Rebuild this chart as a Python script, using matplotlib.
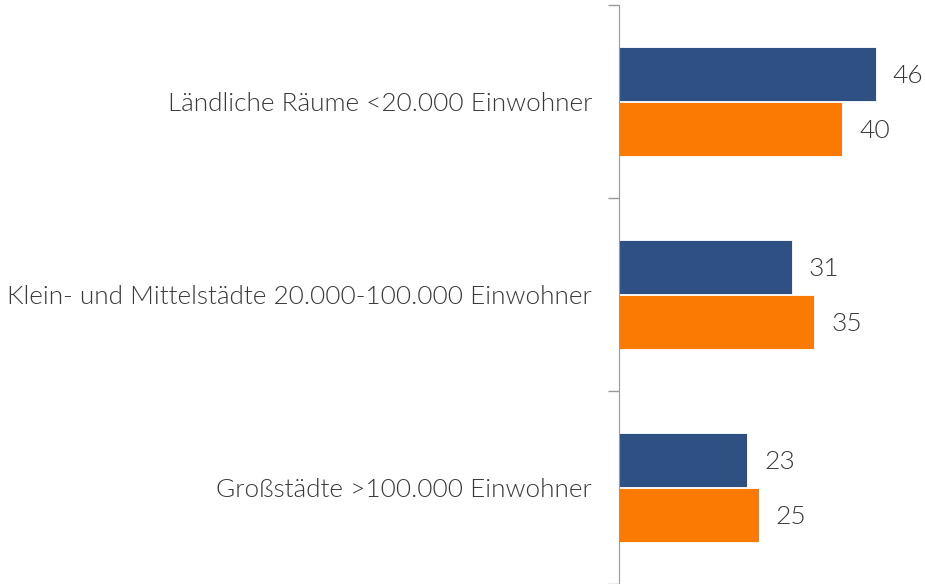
import numpy as np
import matplotlib
matplotlib.use("Agg")
import matplotlib.pyplot as plt

categories = ["Ländliche Räume <20.000 Einwohner",
              "Klein- und Mittelstädte 20.000-100.000 Einwohner",
              "Großstädte >100.000 Einwohner"]
series_blue = [46, 31, 23]
series_orange = [40, 35, 25]

blue = "#2F5082"
orange = "#FA7A04"
text_col = "#383838"

plt.rcParams['font.family'] = ['Lato', 'DejaVu Sans']

fig = plt.figure(figsize=(9.25, 5.84), dpi=100)
ax = fig.add_axes([619/925, 0, 1 - 619/925, 1 - 5/584])

y = np.arange(len(categories))
h = 0.275
off = 0.1425
b1 = ax.barh(y - off, series_blue, height=h, color=blue, edgecolor="white", linewidth=0.6)
b2 = ax.barh(y + off, series_orange, height=h, color=orange, edgecolor="white", linewidth=0.6)

for bars, vals in ((b1, series_blue), (b2, series_orange)):
    for bar, v in zip(bars, vals):
        ax.text(v + 3, bar.get_y() + bar.get_height()/2 + 0.01, str(v), va="center", ha="left",
                fontsize=19, color=text_col, fontweight=300)

ax.set_ylim(2.5, -0.5)
ax.set_xlim(0, 54.8)
ax.set_yticks([-0.5, 0.5, 1.5, 2.5])
ax.set_yticklabels([])
ax.set_yticks(y, minor=True)
ax.set_yticklabels(categories, minor=True, fontsize=18.8, color=text_col, fontweight=300)
ax.tick_params(axis="y", which="major", length=8, color="#999999", width=1)
ax.tick_params(axis="y", which="minor", length=0, pad=19.5)
ax.set_xticks([])
for s in ["top", "right", "bottom"]:
    ax.spines[s].set_visible(False)
ax.spines["left"].set_color("#999999")

fig.savefig("out.png", dpi=100)
